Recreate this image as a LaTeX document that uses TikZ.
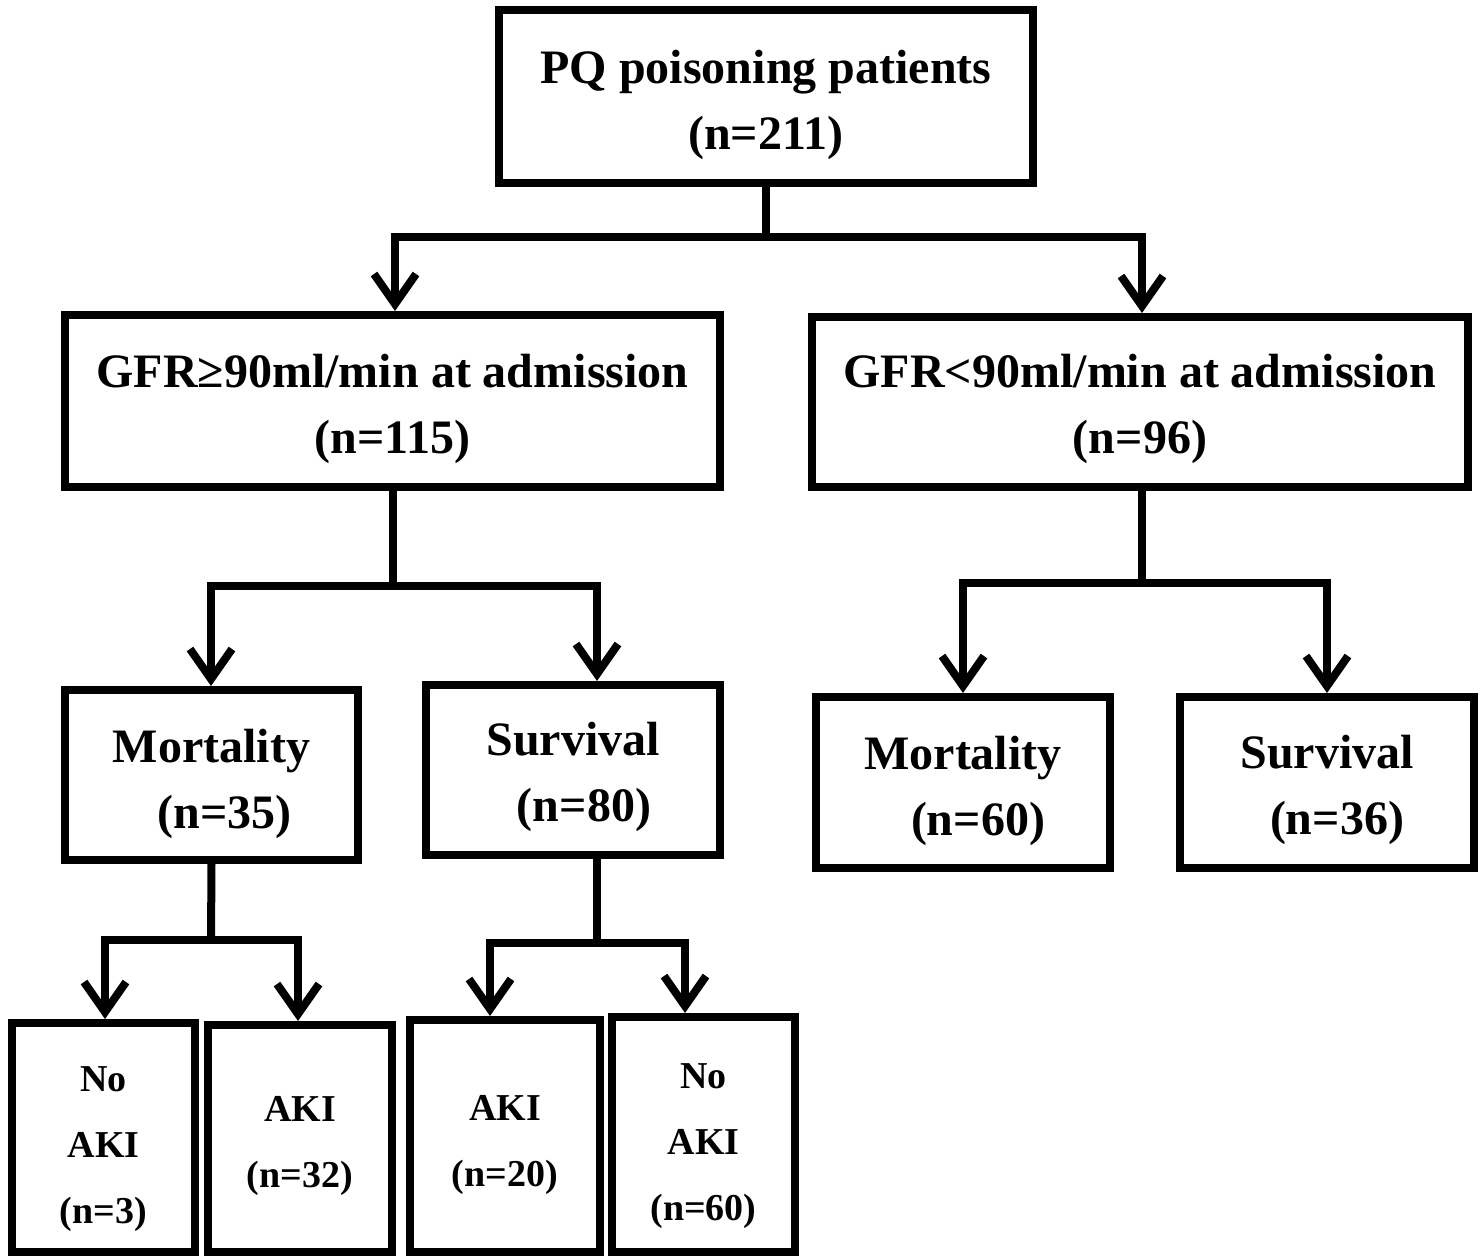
\documentclass[tikz,border=0pt]{standalone}
\usepackage{fontspec}
\setmainfont{Liberation Serif}
\usetikzlibrary{arrows.meta,calc}
\newcommand\lift[1]{\rule{0pt}{#1}}
\begin{document}
\begin{tikzpicture}[x=0.5pt,y=-0.5pt,
  box/.style={draw=black,line width=4pt,fill=white,inner sep=0pt,align=center,
    font=\bfseries\fontsize{24}{33}\selectfont},
  smallbox/.style={box,font=\bfseries\fontsize{19}{33}\selectfont},
  conn/.style={line width=4pt,line join=miter},
  arr/.style={conn,{Straight Barb[length=15pt,width=21pt]}-{Straight Barb[length=15pt,width=21pt]}}]
\useasboundingbox[fill=white] (0,0) rectangle (1484,1256);

% nodes
\node[box,minimum width=267pt,minimum height=86.5pt] (top) at (766,96.5) {\lift{25pt}PQ poisoning patients\\(n=211)};
\node[box,minimum width=327.5pt,minimum height=86pt] (gfrA) at (392.5,401) {\lift{25pt}GFR≥90ml/min at admission\\(n=115)};
\node[box,minimum width=328pt,minimum height=85pt] (gfrB) at (1140,402) {\lift{24pt}GFR<90ml/min at admission\\(n=96)};
\node[box,minimum width=146.5pt,minimum height=85pt] (mortL) at (211.5,775) {\lift{26pt}Mortality\\\hspace*{13pt}(n=35)};
\node[box,minimum width=147pt,minimum height=85pt] (survL) at (573,770) {\lift{24pt}Survival\\\hspace*{11pt}(n=80)};
\node[box,minimum width=147pt,minimum height=85.5pt] (mortR) at (963,782.5) {\lift{25pt}Mortality\\\hspace*{15pt}(n=60)};
\node[box,minimum width=147pt,minimum height=85.5pt] (survR) at (1327,782.5) {\lift{24pt}Survival\\\hspace*{10pt}(n=36)};
\node[smallbox,minimum width=91.5pt,minimum height=114.5pt] (b1) at (103.5,1137.5) {\lift{24pt}No\\AKI\\(n=3)};
\node[smallbox,minimum width=92pt,minimum height=113.5pt] (b2) at (300,1138.5) {\lift{20pt}AKI\\(n=32)};
\node[smallbox,minimum width=95pt,minimum height=116pt] (b3) at (505,1136) {\lift{22pt}AKI\\(n=20)};
\node[smallbox,minimum width=91.5pt,minimum height=117.5pt] (b4) at (703.5,1134.5) {\lift{24pt}No\\AKI\\(n=60)};

% junction coordinates
\coordinate (s1) at (766,237);
\coordinate (c1a) at (395,237);
\coordinate (c1b) at (1142,237);
\coordinate (s2) at (392.5,586);
\coordinate (c2a) at (211,586);
\coordinate (c2b) at (597,586);
\coordinate (s3) at (1142,583);
\coordinate (c3a) at (963,583);
\coordinate (c3b) at (1327,583);
\coordinate (s4) at (211,940);
\coordinate (c4a) at (105,940);
\coordinate (c4b) at (298,940);
\coordinate (s5) at (597,943);
\coordinate (c5a) at (490,943);
\coordinate (c5b) at (685,943);

% connectors
\draw[conn] (top.south) -- (s1);
\draw[arr] (c1a |- gfrA.north) -- (c1a) -- (c1b) -- (c1b |- gfrB.north);

\draw[conn] (gfrA.south) -- (s2);
\draw[arr] (c2a |- mortL.north) -- (c2a) -- (c2b) -- (c2b |- survL.north);

\draw[conn] (s3 |- gfrB.south) -- (s3);
\draw[arr] (c3a |- mortR.north) -- (c3a) -- (c3b) -- (c3b |- survR.north);

\draw[conn] (mortL.south) -- (s4);
\draw[arr] (c4a |- b1.north) -- (c4a) -- (c4b) -- (c4b |- b2.north);

\draw[conn] (s5 |- survL.south) -- (s5);
\draw[arr] (c5a |- b3.north) -- (c5a) -- (c5b) -- (c5b |- b4.north);
\end{tikzpicture}
\end{document}
